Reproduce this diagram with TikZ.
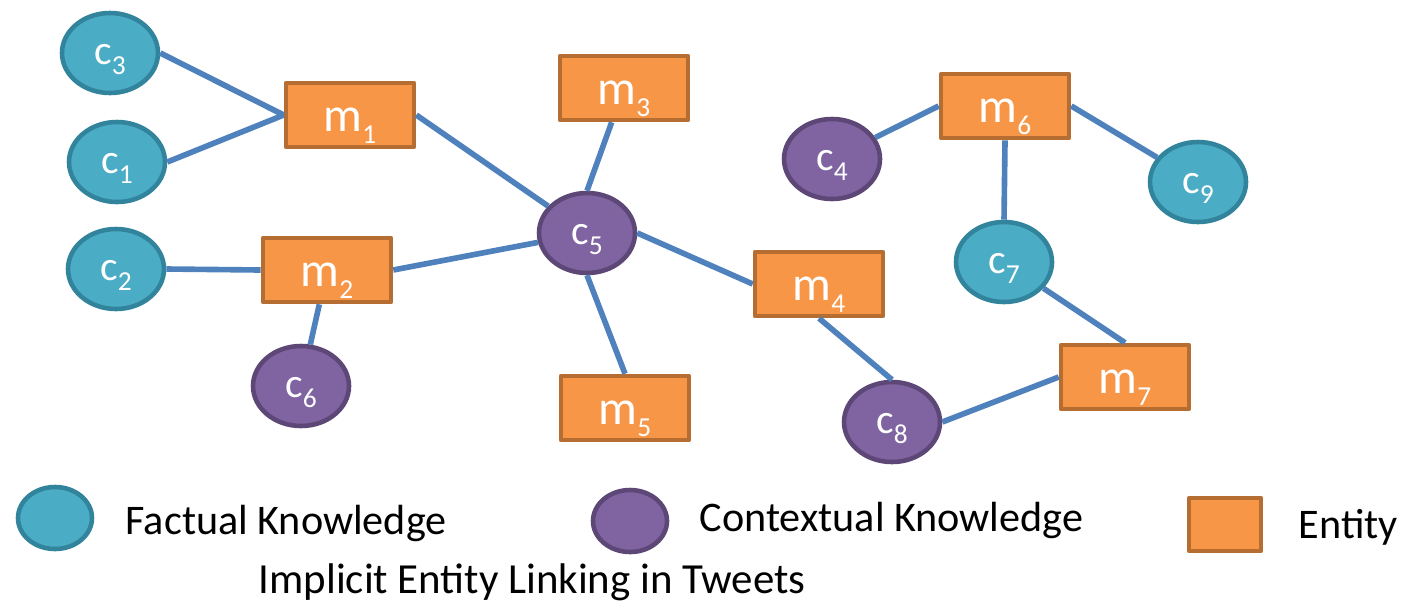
\documentclass[tikz,border=0pt]{standalone}
\usepackage{fontspec}
\setmainfont{Carlito}
\usetikzlibrary{shapes.geometric}

\definecolor{factfill}{HTML}{4BACC6}
\definecolor{factline}{HTML}{31849B}
\definecolor{ctxfill}{HTML}{8064A2}
\definecolor{ctxline}{HTML}{5C4776}
\definecolor{entfill}{HTML}{F79646}
\definecolor{entline}{HTML}{B66D31}
\definecolor{linkblue}{HTML}{4F81BD}

\newcommand{\cname}[1]{c\raisebox{-0.10cm}{\fontsize{7.8}{9}\selectfont #1}}
\newcommand{\mname}[1]{m\raisebox{-0.12cm}{\fontsize{7.8}{9}\selectfont #1}}

\tikzset{
  knode/.style={ellipse,line width=1.3pt,minimum width=0.96cm,minimum height=0.80cm,
    inner sep=0pt,text=white,text height=0.22cm,text depth=0pt,
    font=\fontsize{11.8}{14}\selectfont},
  factual/.style={knode,draw=factline,fill=factfill},
  contextual/.style={knode,draw=ctxline,fill=ctxfill},
  entity/.style={rectangle,draw=entline,fill=entfill,line width=1.3pt,
    minimum width=1.28cm,minimum height=0.64cm,inner sep=0pt,text=white,
    text height=0.32cm,text depth=0pt,font=\fontsize{13.8}{16}\selectfont},
  link/.style={draw=linkblue,line width=1.6pt},
  legtext/.style={anchor=base west,inner sep=0pt,font=\fontsize{12}{14}\selectfont}
}

\begin{document}
\begin{tikzpicture}[line join=round]
  \useasboundingbox (0,0) rectangle (14.04,-6.00);

  \node[factual] (c3) at (1.10,-0.53) {\cname{3}};
  \node[factual] (c1) at (1.17,-1.62) {\cname{1}};
  \node[factual] (c2) at (1.16,-2.69) {\cname{2}};
  \node[factual] (c7) at (10.04,-2.62) {\cname{7}};
  \node[factual] (c9) at (11.98,-1.82) {\cname{9}};

  \node[contextual] (c5) at (5.87,-2.33) {\cname{5}};
  \node[contextual] (c4) at (8.32,-1.59) {\cname{4}};
  \node[contextual] (c6) at (3.01,-3.86) {\cname{6}};
  \node[contextual] (c8) at (8.92,-4.22) {\cname{8}};

  \node[entity] (m1) at (3.50,-1.15) {\mname{1}};
  \node[entity] (m2) at (3.27,-2.70) {\mname{2}};
  \node[entity] (m3) at (6.24,-0.88) {\mname{3}};
  \node[entity] (m4) at (8.19,-2.84) {\mname{4}};
  \node[entity] (m5) at (6.25,-4.08) {\mname{5}};
  \node[entity] (m6) at (10.05,-1.06) {\mname{6}};
  \node[entity] (m7) at (11.25,-3.77) {\mname{7}};

  \draw[link] (c3.east) -- (m1.west);
  \draw[link] (c1.east) -- (m1.west);
  \draw[link] (m1.east) -- (c5);
  \draw[link] (m3) -- (c5.north);
  \draw[link] (c2.east) -- (m2.west);
  \draw[link] (m2.east) -- (c5);
  \draw[link] (m2) -- (c6);
  \draw[link] (c5.south) -- (m5.north);
  \draw[link] (c5.east) -- (m4.west);
  \draw[link] (m4.south) -- (c8.north);
  \draw[link] (c8.east) -- (m7.west);
  \draw[link] (c7) -- (m7.north);
  \draw[link] (m6.south) -- (c7.north);
  \draw[link] (c4) -- (m6.west);
  \draw[link] (m6.east) -- (c9);

  % legend
  \node[factual,minimum width=0.74cm,minimum height=0.62cm] (kf) at (0.55,-5.18) {};
  \node[legtext] (tf) at (1.25,-5.34) {Factual Knowledge};
  \node[contextual,minimum width=0.74cm,minimum height=0.62cm] (kc) at (6.30,-5.21) {};
  \node[legtext] (tc) at (6.99,-5.31) {Contextual Knowledge};
  \node[entity,minimum width=0.72cm,minimum height=0.53cm] (ke) at (12.25,-5.245) {};
  \node[legtext] (te) at (12.98,-5.38) {Entity};

  \node[legtext,font=\fontsize{12.2}{14}\selectfont] (title) at (2.58,-5.93) {Implicit Entity Linking in Tweets};
\end{tikzpicture}
\end{document}
